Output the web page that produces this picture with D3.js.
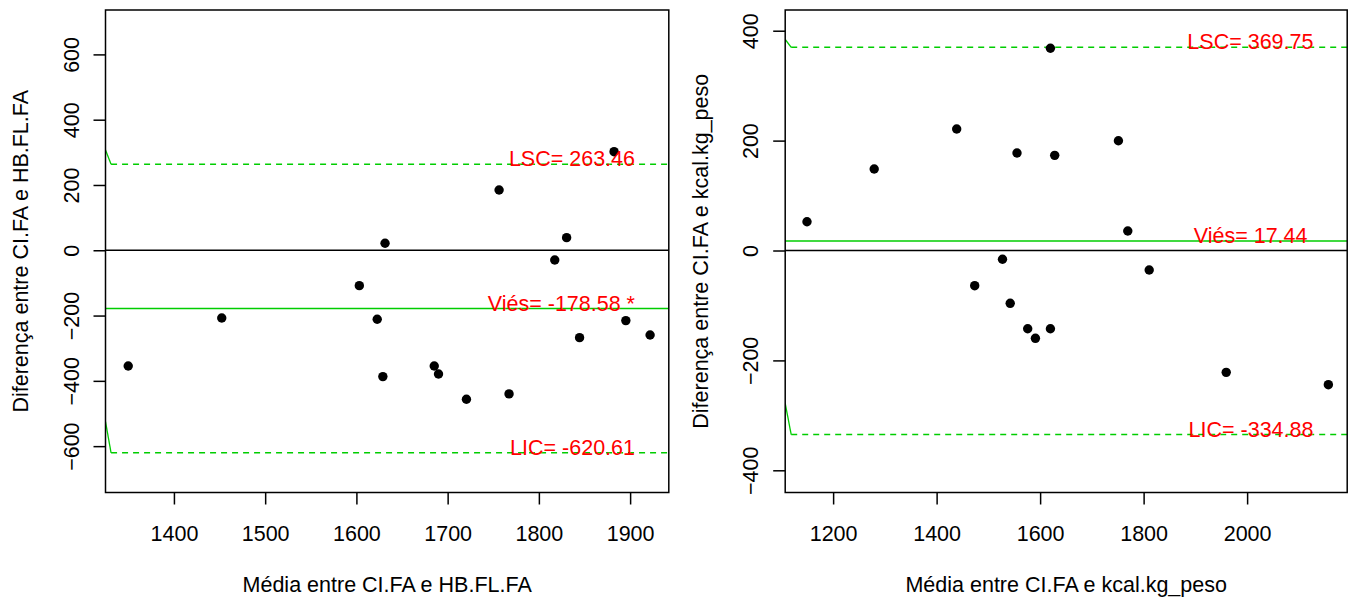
<!DOCTYPE html>
<html>
<head>
<meta charset="utf-8">
<script src="https://cdn.jsdelivr.net/npm/d3@7"></script>
<style>
  html, body { margin: 0; padding: 0; background: #fff; }
  svg { display: block; }
  text { font-family: "Liberation Sans", Arial, sans-serif; }
</style>
</head>
<body>
<svg id="chart" width="1349" height="601"></svg>
<script>
// ---------- data: panel 1 (CI.FA vs HB.FL.FA) ----------
const p1Media = [1349.9, 1452.4, 1603.2, 1622.8, 1629.0, 1631.4, 1685.3, 1690.0, 1720.6, 1756.4, 1767.3, 1817.4, 1830.4, 1844.6, 1882.4, 1895.3, 1921.9];
const p1Dif   = [-354.4, -207.4, -108.4, -211.4, -387.0, 21.4, -354.4, -378.9, -456.5, 184.7, -440.0, -29.7, 38.6, -267.6, 302.0, -215.5, -259.5];
const p1Vies = -178.58, p1LSC = 263.46, p1LIC = -620.61;
const p1Labels = ["LSC= 263.46", "Viés= -178.58 *", "LIC= -620.61"];
const p1XTicks = [1400, 1500, 1600, 1700, 1800, 1900];
const p1YTicks = [-600, -400, -200, 0, 200, 400, 600];
const p1XDomain = [1325, 1942.4];
const p1YDomain = [-742, 736];
const p1StubX = [1325, 1331.1];
const p1StubUpper = [307, 263.46];
const p1StubLower = [-525, -620.61];
const p1XTitle = "Média entre CI.FA e HB.FL.FA";
const p1YTitle = "Diferença entre CI.FA e HB.FL.FA";

// ---------- data: panel 2 (CI.FA vs kcal.kg_peso) ----------
const p2Media = [1149.5, 1279.4, 1438.8, 1473.6, 1527.3, 1542.2, 1555.3, 1576.0, 1590.9, 1619.9, 1619.9, 1628.2, 1751.3, 1769.4, 1810.8, 1959.6, 2157.0];
const p2Dif   = [52.4, 148.3, 221.1, -64.0, -16.0, -96.1, 177.4, -142.3, -159.8, 368.0, -142.3, 173.2, 199.8, 35.5, -35.5, -221.7, -244.2];
const p2Vies = 17.44, p2LSC = 369.75, p2LIC = -334.88;
const p2Labels = ["LSC= 369.75", "Viés= 17.44 ", "LIC= -334.88"];
const p2XTicks = [1200, 1400, 1600, 1800, 2000];
const p2YTicks = [-400, -200, 0, 200, 400];
const p2XDomain = [1107.4, 2193.4];
const p2YDomain = [-440.4, 437.7];
const p2StubX = [1107.4, 1119];
const p2StubUpper = [384.3, 369.75];
const p2StubLower = [-278, -334.88];
const p2XTitle = "Média entre CI.FA e kcal.kg_peso";
const p2YTitle = "Diferença entre CI.FA e kcal.kg_peso";

const GREEN = "#00CD00";
const FONT = 21.5;
const svg = d3.select("#chart");

function panel(cfg) {
  const x = d3.scaleLinear().domain(cfg.xDomain).range([cfg.left, cfg.right]);
  const y = d3.scaleLinear().domain(cfg.yDomain).range([cfg.bottom, cfg.top]);
  const g = svg.append("g");

  const clipId = "clip" + cfg.id;
  svg.append("clipPath").attr("id", clipId).append("rect")
    .attr("x", cfg.left).attr("y", cfg.top)
    .attr("width", cfg.right - cfg.left).attr("height", cfg.bottom - cfg.top);
  const plot = g.append("g").attr("clip-path", `url(#${clipId})`);

  // zero line
  plot.append("line")
    .attr("x1", cfg.left).attr("x2", cfg.right)
    .attr("y1", y(0)).attr("y2", y(0))
    .attr("stroke", "#000").attr("stroke-width", 1.5);

  // bias line
  plot.append("line")
    .attr("x1", cfg.left).attr("x2", cfg.right)
    .attr("y1", y(cfg.vies)).attr("y2", y(cfg.vies))
    .attr("stroke", GREEN).attr("stroke-width", 1.5);

  // limits (dashed) + stubs
  [[cfg.lsc, cfg.stubUpper], [cfg.lic, cfg.stubLower]].forEach(([v, stub]) => {
    plot.append("line")
      .attr("x1", x(cfg.stubX[1])).attr("x2", cfg.right)
      .attr("y1", y(v)).attr("y2", y(v))
      .attr("stroke", GREEN).attr("stroke-width", 1.5)
      .attr("stroke-dasharray", "6,5");
    plot.append("line")
      .attr("x1", x(cfg.stubX[0])).attr("x2", x(cfg.stubX[1]))
      .attr("y1", y(stub[0])).attr("y2", y(stub[1]))
      .attr("stroke", GREEN).attr("stroke-width", 1.3);
  });

  // points
  plot.selectAll("circle").data(cfg.mx.map((m, i) => [m, cfg.dy[i]]))
    .join("circle")
    .attr("cx", d => x(d[0])).attr("cy", d => y(d[1]))
    .attr("r", 4.7).attr("fill", "#000");

  // labels
  const labelX = cfg.left + 0.94 * (cfg.right - cfg.left);
  [cfg.lsc, cfg.vies, cfg.lic].forEach((v, i) => {
    g.append("text")
      .attr("x", labelX).attr("y", y(v) + 2)
      .attr("text-anchor", "end")
      .attr("fill", "#FF0000")
      .attr("font-size", FONT)
      .style("white-space", "pre")
      .text(cfg.labels[i]);
  });

  // box
  g.append("rect")
    .attr("x", cfg.left).attr("y", cfg.top)
    .attr("width", cfg.right - cfg.left).attr("height", cfg.bottom - cfg.top)
    .attr("fill", "none").attr("stroke", "#000").attr("stroke-width", 1.5);

  // x axis
  const xa = g.append("g").attr("transform", `translate(0,${cfg.bottom})`)
    .call(d3.axisBottom(x).tickValues(cfg.xTicks).tickSize(12).tickFormat(d3.format("d")));
  xa.select(".domain").remove();
  xa.selectAll(".tick line").attr("stroke", "#000").attr("stroke-width", 1.5);
  xa.selectAll(".tick text").attr("y", 48).attr("dy", 0)
    .attr("font-size", FONT).attr("fill", "#000")
    .attr("font-family", '"Liberation Sans", Arial, sans-serif');

  // y axis
  const ya = g.append("g").attr("transform", `translate(${cfg.left},0)`)
    .call(d3.axisLeft(y).tickValues(cfg.yTicks).tickSize(12).tickFormat(d3.format("d")));
  ya.select(".domain").remove();
  ya.selectAll(".tick line").attr("stroke", "#000").attr("stroke-width", 1.5);
  ya.selectAll(".tick text")
    .attr("x", 0).attr("y", 0).attr("dy", 0)
    .attr("transform", "translate(-27,0) rotate(-90)")
    .attr("text-anchor", "middle")
    .attr("font-size", FONT).attr("fill", "#000")
    .attr("font-family", '"Liberation Sans", Arial, sans-serif');

  // titles
  g.append("text")
    .attr("x", (cfg.left + cfg.right) / 2).attr("y", cfg.bottom + 99)
    .attr("text-anchor", "middle").attr("font-size", FONT).attr("fill", "#000")
    .text(cfg.xTitle);
  g.append("text")
    .attr("transform", `translate(${cfg.left - 77.4},${(cfg.top + cfg.bottom) / 2}) rotate(-90)`)
    .attr("text-anchor", "middle").attr("font-size", FONT).attr("fill", "#000")
    .text(cfg.yTitle);
}

panel({
  id: 1, left: 105.5, right: 668.8, top: 10, bottom: 492.5,
  xDomain: p1XDomain, yDomain: p1YDomain, xTicks: p1XTicks, yTicks: p1YTicks,
  mx: p1Media, dy: p1Dif, vies: p1Vies, lsc: p1LSC, lic: p1LIC, labels: p1Labels,
  stubX: p1StubX, stubUpper: p1StubUpper, stubLower: p1StubLower,
  xTitle: p1XTitle, yTitle: p1YTitle
});
panel({
  id: 2, left: 785.2, right: 1347.2, top: 10, bottom: 492.5,
  xDomain: p2XDomain, yDomain: p2YDomain, xTicks: p2XTicks, yTicks: p2YTicks,
  mx: p2Media, dy: p2Dif, vies: p2Vies, lsc: p2LSC, lic: p2LIC, labels: p2Labels,
  stubX: p2StubX, stubUpper: p2StubUpper, stubLower: p2StubLower,
  xTitle: p2XTitle, yTitle: p2YTitle
});
</script>
</body>
</html>
